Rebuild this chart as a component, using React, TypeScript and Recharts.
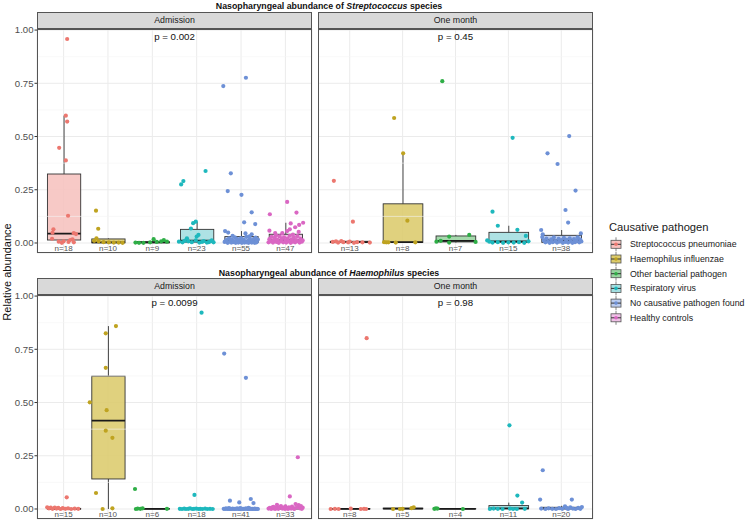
import React from 'react';
import { ComposedChart, Bar, Scatter, XAxis, YAxis, CartesianGrid, ReferenceLine } from 'recharts';

const FONT = '"Liberation Sans", Arial, Helvetica, sans-serif';

const PATHOGENS = [
  'Streptococcus pneumoniae',
  'Haemophilus influenzae',
  'Other bacterial pathogen',
  'Respiratory virus',
  'No causative pathogen found',
  'Healthy controls',
];
const POINT_COLORS = ['#EC776F', '#BFA320', '#2EAE46', '#1EB8BD', '#6D90D6', '#DA67C3'];
const BOX_FILLS = ['#F6C1BE', '#DCCB6C', '#98D4A0', '#A3DEE0', '#BBCCEF', '#EFC0E6'];

const Y_TICKS = [0, 0.25, 0.5, 0.75, 1];
const Y_MINOR = [0.125, 0.375, 0.625, 0.875];

type Pair = [number, number];

// box stats: [lower whisker, q1, median, q3, upper whisker]
// points: [jitter offset, relative abundance]

// Streptococcus - Admission
const strepAdmN = ['n=18', 'n=10', 'n=9', 'n=23', 'n=55', 'n=47'];
const strepAdmBox = [
  [0.001, 0.014, 0.044, 0.324, 0.598],
  [0, 0.001, 0.003, 0.019, 0.022],
  [0.001, 0.001, 0.003, 0.006, 0.013],
  [0.002, 0.004, 0.011, 0.064, 0.1],
  [0, 0.002, 0.01, 0.03, 0.056],
  [0, 0.004, 0.012, 0.041, 0.095],
];
const strepAdmPts: Pair[][] = [
  [[0.08, 0.958], [0.05, 0.598], [0.08, 0.57], [-0.1, 0.447], [0.05, 0.388], [0.1, 0.128], [-0.23, 0.064], [-0.25, 0.048], [0.23, 0.046], [0.28, 0.042], [-0.26, 0.02], [0.2, 0.017], [-0.11, 0.006], [0.0, 0.008], [0.11, 0.005], [0.23, 0.003], [0.15, 0.014], [-0.04, 0.001]],
  [[-0.27, 0.152], [-0.22, 0.067], [-0.26, 0.022], [-0.31, 0.01], [-0.21, 0.008], [-0.1, 0.004], [0.02, 0.003], [0.13, 0.002], [0.24, 0.002], [0.33, 0.001]],
  [[-0.38, 0.002], [-0.3, 0.001], [-0.2, 0.001], [0.03, 0.018], [0.1, 0.005], [0.2, 0.008], [0.26, 0.013], [0.33, 0.006], [-0.05, 0.003]],
  [[-0.35, 0.275], [-0.3, 0.291], [0.2, 0.338], [-0.08, 0.093], [-0.02, 0.1], [-0.13, 0.068], [0.04, 0.038], [0.0, 0.03], [-0.22, 0.022], [-0.4, 0.006], [-0.32, 0.003], [-0.19, 0.008], [-0.11, 0.004], [-0.02, 0.012], [0.12, 0.005], [0.23, 0.002], [0.3, 0.007], [0.38, 0.003], [0.34, 0.012], [-0.27, 0.01], [0.06, 0.002], [0.16, 0.009], [0.27, 0.004]],
  [[-0.4, 0.737], [0.11, 0.776], [-0.23, 0.327], [-0.3, 0.244], [0.01, 0.226], [0.24, 0.144], [0.07, 0.097], [0.32, 0.089], [-0.36, 0.056], [-0.29, 0.049], [0.24, 0.041], [0.1, 0.045],
    [-0.37, 0.005], [-0.33, 0.013], [-0.3, 0.001], [-0.27, 0.022], [-0.25, 0.007], [-0.22, 0.002], [-0.21, 0.016], [-0.18, 0.004], [-0.16, 0.009], [-0.14, 0.027], [-0.12, 0.001], [-0.1, 0.008], [-0.09, 0.019], [-0.06, 0.002], [-0.04, 0.012], [-0.02, 0.005], [0.0, 0.023], [0.02, 0.001], [0.04, 0.009], [0.06, 0.015], [0.08, 0.002], [0.09, 0.006], [0.12, 0.029], [0.13, 0.003], [0.16, 0.011], [0.17, 0.001], [0.2, 0.018], [0.21, 0.006], [0.24, 0.002], [0.26, 0.013], [0.27, 0.004], [0.3, 0.021], [0.31, 0.001], [0.34, 0.008], [0.35, 0.003], [0.38, 0.016], [-0.35, 0.009], [-0.19, 0.034], [0.01, 0.007], [0.19, 0.031], [0.33, 0.025]],
  [[0.04, 0.193], [-0.35, 0.135], [0.25, 0.143], [0.12, 0.092], [0.4, 0.095], [0.31, 0.085], [0.22, 0.074], [0.1, 0.064], [0.04, 0.056], [-0.07, 0.046], [-0.36, 0.058], [-0.23, 0.047], [0.3, 0.052], [0.17, 0.04],
    [-0.38, 0.003], [-0.36, 0.018], [-0.33, 0.008], [-0.31, 0.029], [-0.28, 0.002], [-0.26, 0.012], [-0.24, 0.024], [-0.2, 0.005], [-0.18, 0.015], [-0.15, 0.001], [-0.13, 0.031], [-0.1, 0.009], [-0.08, 0.019], [-0.05, 0.003], [-0.03, 0.027], [0.0, 0.011], [0.02, 0.002], [0.05, 0.021], [0.07, 0.007], [0.1, 0.034], [0.12, 0.001], [0.14, 0.016], [0.17, 0.006], [0.19, 0.025], [0.22, 0.003], [0.24, 0.013], [0.27, 0.032], [0.29, 0.008], [0.32, 0.002], [0.34, 0.019], [0.37, 0.006], [0.39, 0.012], [-0.21, 0.036]],
];

// Streptococcus - One month
const strepMonN = ['n=13', 'n=8', 'n=7', 'n=15', 'n=38'];
const strepMonBox = [
  [0.001, 0.002, 0.004, 0.008, 0.009],
  [0.002, 0.003, 0.004, 0.184, 0.421],
  [0.002, 0.005, 0.01, 0.033, 0.038],
  [0.001, 0.003, 0.008, 0.05, 0.081],
  [0, 0.003, 0.012, 0.036, 0.061],
];
const strepMonPts: Pair[][] = [
  [[-0.3, 0.292], [0.06, 0.1], [-0.32, 0.005], [-0.26, 0.008], [-0.16, 0.009], [-0.12, 0.004], [-0.03, 0.003], [0.0, 0.007], [0.14, 0.004], [0.38, 0.002], [-0.22, 0.002], [0.08, 0.001], [0.24, 0.003]],
  [[-0.16, 0.587], [0.01, 0.421], [0.09, 0.105], [-0.31, 0.003], [-0.27, 0.003], [-0.13, 0.002], [0.24, 0.003], [-0.35, 0.004]],
  [[-0.25, 0.76], [-0.36, 0.006], [-0.28, 0.01], [-0.12, 0.03], [0.26, 0.038], [0.38, 0.005], [-0.12, 0.002]],
  [[0.08, 0.494], [-0.3, 0.147], [-0.2, 0.081], [0.17, 0.062], [0.33, 0.033], [-0.4, 0.012], [-0.36, 0.006], [-0.3, 0.002], [-0.2, 0.004], [-0.1, 0.001], [0.0, 0.003], [0.1, 0.002], [0.2, 0.004], [0.3, 0.001], [0.38, 0.008]],
  [[0.15, 0.502], [-0.26, 0.421], [-0.07, 0.371], [0.27, 0.246], [0.08, 0.155], [0.13, 0.096], [-0.38, 0.061], [-0.35, 0.041],
    [-0.36, 0.028], [-0.33, 0.012], [-0.3, 0.003], [-0.28, 0.021], [-0.25, 0.007], [-0.22, 0.001], [-0.19, 0.017], [-0.16, 0.004], [-0.14, 0.026], [-0.11, 0.009], [-0.08, 0.002], [-0.05, 0.019], [-0.03, 0.006], [0.0, 0.013], [0.03, 0.001], [0.05, 0.024], [0.08, 0.005], [0.1, 0.015], [0.13, 0.002], [0.16, 0.022], [0.18, 0.008], [0.21, 0.001], [0.24, 0.018], [0.26, 0.004], [0.29, 0.011], [0.31, 0.027], [0.34, 0.003], [0.36, 0.016], [0.38, 0.007], [0.37, 0.045]],
];

// Haemophilus - Admission
const haemAdmN = ['n=15', 'n=10', 'n=6', 'n=18', 'n=41', 'n=33'];
const haemAdmBox = [
  [0, 0, 0.001, 0.003, 0.007],
  [0, 0.141, 0.415, 0.624, 0.859],
  [0, 0, 0.001, 0.002, 0.003],
  [0, 0, 0.001, 0.002, 0.004],
  [0, 0.001, 0.002, 0.004, 0.008],
  [0, 0.001, 0.003, 0.008, 0.02],
];
const haemAdmPts: Pair[][] = [
  [[0.07, 0.055], [-0.37, 0.008], [-0.33, 0.003], [-0.29, 0.006], [-0.25, 0.001], [-0.2, 0.007], [-0.16, 0.002], [-0.12, 0.005], [-0.07, 0.0], [-0.02, 0.004], [0.04, 0.001], [0.1, 0.003], [0.17, 0.0], [0.25, 0.002], [0.33, 0.001]],
  [[0.18, 0.859], [-0.05, 0.825], [-0.05, 0.663], [-0.41, 0.501], [-0.03, 0.464], [-0.05, 0.368], [0.1, 0.334], [-0.27, 0.075], [-0.12, 0.0], [0.1, 0.003]],
  [[-0.39, 0.094], [-0.37, 0.0], [-0.27, 0.001], [-0.22, 0.003], [0.33, 0.001], [-0.33, 0.002]],
  [[0.11, 0.922], [-0.05, 0.066], [-0.38, 0.001], [-0.33, 0.0], [-0.28, 0.002], [-0.24, 0.0], [-0.19, 0.001], [-0.15, 0.003], [-0.1, 0.0], [-0.06, 0.001], [-0.01, 0.002], [0.04, 0.0], [0.08, 0.001], [0.13, 0.0], [0.19, 0.002], [0.24, 0.0], [0.3, 0.001], [0.36, 0.0]],
  [[-0.38, 0.73], [0.11, 0.616], [-0.25, 0.039], [-0.04, 0.031], [0.22, 0.047], [0.28, 0.028],
    [-0.39, 0.001], [-0.36, 0.0], [-0.34, 0.003], [-0.31, 0.0], [-0.29, 0.002], [-0.26, 0.0], [-0.24, 0.001], [-0.21, 0.0], [-0.19, 0.002], [-0.16, 0.0], [-0.14, 0.001], [-0.11, 0.0], [-0.09, 0.003], [-0.06, 0.0], [-0.04, 0.001], [-0.01, 0.0], [0.01, 0.002], [0.04, 0.0], [0.06, 0.001], [0.09, 0.0], [0.11, 0.003], [0.14, 0.0], [0.16, 0.001], [0.19, 0.0], [0.21, 0.002], [0.24, 0.0], [0.26, 0.001], [0.29, 0.0], [0.31, 0.002], [0.33, 0.0], [0.36, 0.001], [0.38, 0.0], [-0.02, 0.004], [0.17, 0.005], [-0.27, 0.004]],
  [[0.28, 0.243], [0.1, 0.059], [-0.19, 0.02], [0.23, 0.023], [0.3, 0.018], [-0.1, 0.014], [0.0, 0.012],
    [-0.38, 0.002], [-0.35, 0.005], [-0.32, 0.0], [-0.29, 0.008], [-0.26, 0.003], [-0.23, 0.0], [-0.2, 0.006], [-0.16, 0.001], [-0.13, 0.009], [-0.07, 0.002], [-0.04, 0.006], [0.03, 0.004], [0.06, 0.0], [0.08, 0.008], [0.13, 0.002], [0.15, 0.011], [0.18, 0.004], [0.2, 0.0], [0.26, 0.007], [0.33, 0.003], [0.35, 0.013], [0.37, 0.001], [0.39, 0.006], [-0.01, 0.0], [0.11, 0.005], [-0.27, 0.01]],
];

// Haemophilus - One month
const haemMonN = ['n=8', 'n=5', 'n=4', 'n=11', 'n=20'];
const haemMonBox = [
  [0, 0, 0.001, 0.002, 0.003],
  [0, 0.001, 0.002, 0.004, 0.009],
  [0, 0.0005, 0.001, 0.002, 0.003],
  [0, 0.001, 0.003, 0.016, 0.03],
  [0, 0.001, 0.003, 0.008, 0.015],
];
const haemMonPts: Pair[][] = [
  [[0.32, 0.802], [-0.36, 0.0], [-0.28, 0.001], [-0.21, 0.0], [0.02, 0.002], [0.21, 0.0], [0.27, 0.001], [0.31, 0.0]],
  [[-0.18, 0.0], [0.0, 0.001], [0.17, 0.004], [0.21, 0.008], [-0.05, 0.0]],
  [[-0.4, 0.001], [-0.37, 0.003], [-0.34, 0.002], [0.14, 0.0]],
  [[0.02, 0.393], [0.17, 0.063], [0.26, 0.03], [-0.35, 0.0], [-0.2, 0.001], [-0.11, 0.0], [0.03, 0.002], [0.16, 0.0], [0.31, 0.001], [-0.28, 0.002], [0.09, 0.0]],
  [[-0.35, 0.182], [-0.4, 0.044], [0.2, 0.044], [0.07, 0.012], [-0.38, 0.002], [-0.3, 0.0], [-0.24, 0.003], [-0.17, 0.001], [-0.1, 0.0], [-0.04, 0.004], [0.02, 0.001], [0.09, 0.006], [0.13, 0.0], [0.17, 0.008], [0.22, 0.002], [0.27, 0.0], [0.32, 0.005], [0.36, 0.001], [0.39, 0.009], [0.11, 0.003]],
];

const PLOT_W = 275;
const PLOT_H = 224;
const Y_DOMAIN = [-0.047, 1.005];

// one bar per box: spans lower..upper whisker, rest drawn inside from the stats
const BoxShape = (props: any) => {
  const { x, y, width, height, payload } = props;
  const [lo, q1, med, q3, hi] = payload.stats;
  const top = Math.min(y, y + height);
  const k = Math.abs(height) / (hi - lo);
  const py = (v: number) => top + (hi - v) * k;
  const cx = x + width / 2;
  return (
    <g>
      <line x1={cx} x2={cx} y1={py(hi)} y2={py(q3)} stroke="#333" strokeWidth={0.9} />
      <line x1={cx} x2={cx} y1={py(q1)} y2={py(lo)} stroke="#333" strokeWidth={0.9} />
      <rect x={x} y={py(q3)} width={width} height={Math.max(py(q1) - py(q3), 0.01)} fill={payload.fill} fillOpacity={0.88} stroke="#333" strokeWidth={0.9} />
      <line x1={x} x2={x + width} y1={py(med)} y2={py(med)} stroke="#1a1a1a" strokeWidth={1.8} />
    </g>
  );
};

const NTick = (props: any) => {
  const { x, y, payload } = props;
  return (
    <text x={x} y={y - 1.6} textAnchor="middle" fontSize={8} fill="#555" fontFamily={FONT}>
      {payload.value}
    </text>
  );
};

function Panel({ left, top, labels, boxes, pts, showY }: { left: number; top: number; labels: string[]; boxes: number[][]; pts: Pair[][]; showY: boolean }) {
  const nCat = labels.length;
  const band = PLOT_W / (nCat + 0.2);
  const pad = band * 0.1;
  const rows = labels.map((n, i) => ({ n, span: [boxes[i][0], boxes[i][4]], stats: boxes[i], fill: BOX_FILLS[i] }));
  const yw = showY ? 37 : 0;
  return (
    <div style={{ position: 'absolute', left: left - yw, top: top - 10 }}>
      <ComposedChart width={PLOT_W + yw + 5} height={PLOT_H + 21} data={rows} margin={{ top: 10, right: 5, bottom: 10, left: 0 }}>
        <XAxis xAxisId="num" type="number" dataKey="x" domain={[0.4, nCat + 0.6]} ticks={labels.map((_, i) => i + 1)} allowDataOverflow hide />
        <XAxis xAxisId="cat" type="category" dataKey="n" height={1} padding={{ left: pad, right: pad }} axisLine={false} tickLine={false} tickSize={0} tickMargin={0} interval={0} tick={<NTick />} />
        <YAxis
          yAxisId="y"
          type="number"
          dataKey="y"
          domain={Y_DOMAIN}
          allowDataOverflow
          ticks={Y_TICKS}
          hide={!showY}
          width={37}
          axisLine={false}
          tickSize={2.5}
          tickMargin={1}
          tickLine={{ stroke: '#333' }}
          tick={{ fontSize: 9.6, fill: '#4d4d4d', fontFamily: FONT }}
          tickFormatter={(v: number) => v.toFixed(2)}
        />
        <CartesianGrid xAxisId="num" yAxisId="y" stroke="#ebebeb" strokeWidth={1} />
        {Y_MINOR.map((v) => (
          <ReferenceLine key={v} xAxisId="num" yAxisId="y" y={v} stroke="#f3f3f3" strokeWidth={0.6} />
        ))}
        <Bar xAxisId="cat" yAxisId="y" dataKey="span" barSize={band * 0.75} shape={BoxShape} isAnimationActive={false} />
        {pts.map((g, i) => (
          <Scatter
            key={i}
            xAxisId="num"
            yAxisId="y"
            data={g.map(([dx, v]) => ({ x: i + 1 + dx, y: v }))}
            fill={POINT_COLORS[i]}
            shape={(p: any) => <circle cx={p.cx} cy={p.cy} r={2.1} fill={POINT_COLORS[i]} />}
            isAnimationActive={false}
          />
        ))}
      </ComposedChart>
    </div>
  );
}

const abs = (s: React.CSSProperties): React.CSSProperties => ({ position: 'absolute', ...s });

function Strip({ left, top, label }: { left: number; top: number; label: string }) {
  return (
    <div style={abs({ left, top, width: PLOT_W, height: 17, background: '#d9d9d9', border: '1px solid #555', boxSizing: 'border-box', fontSize: 8.8, color: '#1a1a1a', textAlign: 'center', lineHeight: '15px' })}>
      {label}
    </div>
  );
}

function Frame({ left, top }: { left: number; top: number }) {
  return <div style={abs({ left, top, width: PLOT_W, height: PLOT_H, border: '1px solid #555', boxSizing: 'border-box', pointerEvents: 'none' })} />;
}

function Centered({ x, y, children, style }: { x: number; y: number; children: React.ReactNode; style?: React.CSSProperties }) {
  return (
    <div style={abs({ left: x, top: y, transform: 'translate(-50%, -50%)', whiteSpace: 'nowrap', lineHeight: 1, ...style })}>
      {children}
    </div>
  );
}

function Legend() {
  return (
    <svg style={abs({ left: 600, top: 215 })} width={145} height={115}>
      <text x={9} y={15.5} fontSize={11.2} fill="#1a1a1a" fontFamily={FONT}>Causative pathogen</text>
      {PATHOGENS.map((name, i) => {
        const cy = 29.3 + 14.7 * i;
        return (
          <g key={name}>
            <line x1={16} x2={16} y1={cy - 7} y2={cy + 7} stroke="#666" strokeWidth={0.8} />
            <rect x={11} y={cy - 4} width={10} height={8} fill={BOX_FILLS[i]} stroke="#555" strokeWidth={0.8} />
            <line x1={11} x2={21} y1={cy} y2={cy} stroke="#333" strokeWidth={1} />
            <circle cx={16} cy={cy} r={1.8} fill={POINT_COLORS[i]} />
            <text x={30} y={cy + 3} fontSize={8.8} fill="#1a1a1a" fontFamily={FONT}>{name}</text>
          </g>
        );
      })}
    </svg>
  );
}

export default function App() {
  return (
    <div style={{ position: 'absolute', left: 0, top: 0, width: 745, height: 522, background: '#fff', fontFamily: FONT, overflow: 'hidden' }}>
      <Centered x={329} y={5.5} style={{ fontSize: 8.8, fontWeight: 'bold', color: '#111' }}>
        Nasopharyngeal abundance of <i>Streptococcus</i> species
      </Centered>
      <Centered x={329} y={272.5} style={{ fontSize: 8.8, fontWeight: 'bold', color: '#111' }}>
        Nasopharyngeal abundance of <i>Haemophilus</i> species
      </Centered>

      <Panel left={37} top={29} labels={strepAdmN} boxes={strepAdmBox} pts={strepAdmPts} showY />
      <Panel left={318} top={29} labels={strepMonN} boxes={strepMonBox} pts={strepMonPts} showY={false} />
      <Panel left={37} top={295} labels={haemAdmN} boxes={haemAdmBox} pts={haemAdmPts} showY />
      <Panel left={318} top={295} labels={haemMonN} boxes={haemMonBox} pts={haemMonPts} showY={false} />

      <Frame left={37} top={29} />
      <Frame left={318} top={29} />
      <Frame left={37} top={295} />
      <Frame left={318} top={295} />
      <Strip left={37} top={12} label="Admission" />
      <Strip left={318} top={12} label="One month" />
      <Strip left={37} top={278} label="Admission" />
      <Strip left={318} top={278} label="One month" />

      <Centered x={174.5} y={36.7} style={{ fontSize: 9.7, color: '#111' }}>p = 0.002</Centered>
      <Centered x={455.5} y={36.7} style={{ fontSize: 9.7, color: '#111' }}>p = 0.45</Centered>
      <Centered x={174.5} y={303} style={{ fontSize: 9.7, color: '#111' }}>p = 0.0099</Centered>
      <Centered x={455.5} y={303} style={{ fontSize: 9.7, color: '#111' }}>p = 0.98</Centered>

      <Centered x={7} y={272} style={{ fontSize: 11, color: '#111', transform: 'translate(-50%, -50%) rotate(-90deg)' }}>
        Relative abundance
      </Centered>

      <Legend />
    </div>
  );
}
